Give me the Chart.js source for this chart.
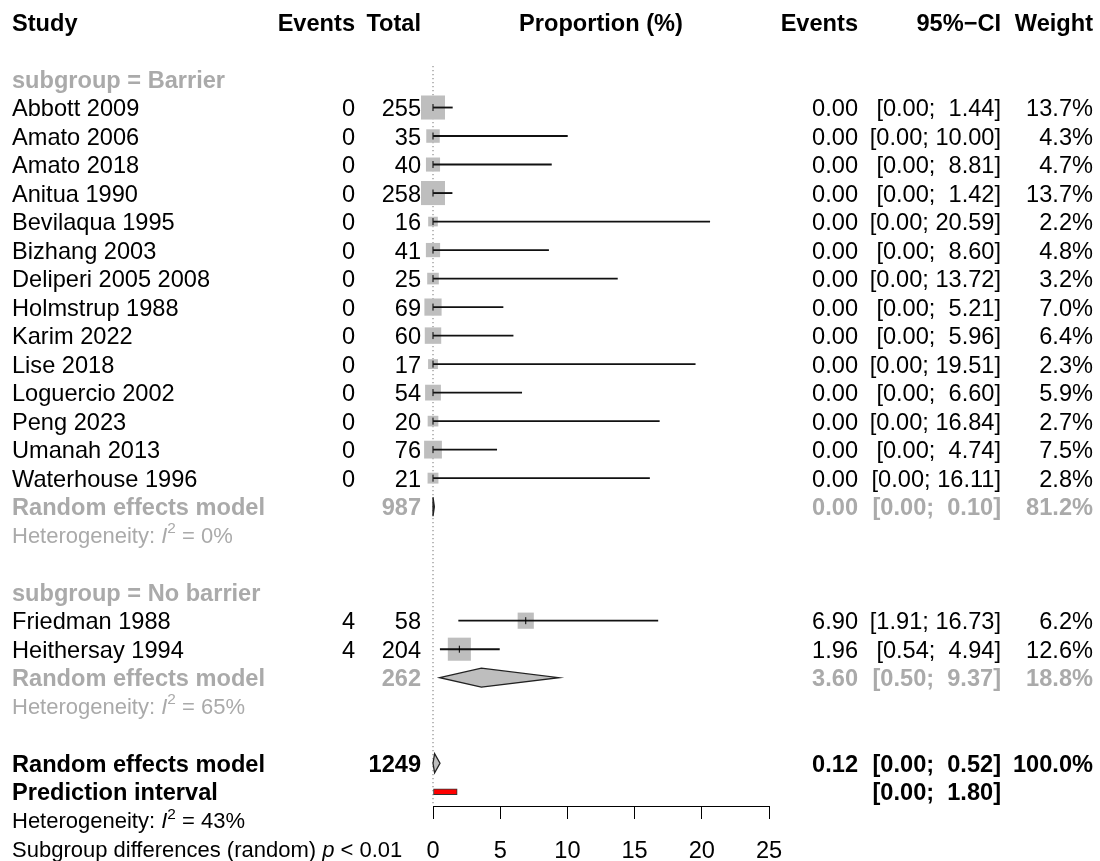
<!DOCTYPE html>
<html>
<head>
<meta charset="utf-8">
<title>Forest plot - proportion (%)</title>
<script src="https://cdn.jsdelivr.net/npm/chart.js@4.4.1/dist/chart.umd.min.js"></script>
<style>
  body { margin: 0; background: #fff; }
  canvas { display: block; }
</style>
</head>
<body>
<canvas id="forestChart" width="1100" height="861"></canvas>
<script>
// study level data
const studies = ['Abbott 2009', 'Amato 2006', 'Amato 2018', 'Anitua 1990', 'Bevilaqua 1995', 'Bizhang 2003',
    'Deliperi 2005 2008', 'Holmstrup 1988', 'Karim 2022', 'Lise 2018', 'Loguercio 2002', 'Peng 2023',
    'Umanah 2013', 'Waterhouse 1996', 'Friedman 1988', 'Heithersay 1994'];
const subgroups = ['Barrier', 'Barrier', 'Barrier', 'Barrier', 'Barrier', 'Barrier', 'Barrier', 'Barrier',
    'Barrier', 'Barrier', 'Barrier', 'Barrier', 'Barrier', 'Barrier', 'No barrier', 'No barrier'];
const events = [0, 0, 0, 0, 0, 0, 0, 0, 0, 0, 0, 0, 0, 0, 4, 4];
const totals = [255, 35, 40, 258, 16, 41, 25, 69, 60, 17, 54, 20, 76, 21, 58, 204];
const proportions = [0, 0, 0, 0, 0, 0, 0, 0, 0, 0, 0, 0, 0, 0, 6.90, 1.96];
const lowerCI = [0, 0, 0, 0, 0, 0, 0, 0, 0, 0, 0, 0, 0, 0, 1.91, 0.54];
const upperCI = [1.44, 10.00, 8.81, 1.42, 20.59, 8.60, 13.72, 5.21, 5.96, 19.51, 6.60, 16.84, 4.74, 16.11, 16.73, 4.94];
const weights = [13.7, 4.3, 4.7, 13.7, 2.2, 4.8, 3.2, 7.0, 6.4, 2.3, 5.9, 2.7, 7.5, 2.8, 6.2, 12.6];

// pooled results: Barrier, No barrier, overall
const groupNames = ['Barrier', 'No barrier'];
const pooledTotals = [987, 262, 1249];
const pooledEst = [0.00, 3.60, 0.12];
const pooledLower = [0.00, 0.50, 0.00];
const pooledUpper = [0.10, 9.37, 0.52];
const pooledWeights = [81.2, 18.8, 100.0];
const hetI2 = [0, 65, 43];
const predInterval = [0.00, 1.80];
const subgroupP = '< 0.01';

const xTicks = [0, 5, 10, 15, 20, 25];

// row layout (row 0 = header)
const studyRow = [];
const subgroupRow = [];
const pooledRow = [];
const hetRow = [];
let r = 2;
groupNames.forEach((g, gi) => {
    subgroupRow[gi] = r++;
    studies.forEach((s, i) => {
        if (subgroups[i] === g) studyRow[i] = r++;
    });
    pooledRow[gi] = r++;
    hetRow[gi] = r++;
    r++;
});
pooledRow[2] = r++;
const predRow = r++;
hetRow[2] = r++;
const diffRow = r++;

const GRAY = '#aaaaaa';
const FONT = "'Liberation Sans', Arial, sans-serif";
const fReg = '23.6px ' + FONT;
const fBold = 'bold 23.6px ' + FONT;
const fHet = 22;
const DY = 2; // text sits a little below the row centre

const fmt = v => v.toFixed(2);
const ciText = (lo, hi) => '[' + fmt(lo) + '; ' + (hi < 10 ? ' ' : '') + fmt(hi) + ']';

function txt(ctx, s, x, y, align, font, color) {
    ctx.font = font;
    ctx.fillStyle = color;
    ctx.textAlign = align;
    ctx.fillText(s, x, y + DY);
}

// draws runs of text one after the other, for italic / superscript parts
function runs(ctx, parts, x, y, color) {
    ctx.fillStyle = color;
    ctx.textAlign = 'left';
    parts.forEach(p => {
        const size = p.sup ? fHet * 0.7 : fHet;
        ctx.font = (p.italic ? 'italic ' : '') + size + 'px ' + FONT;
        ctx.fillText(p.t, x, y + DY - (p.sup ? 8 : 0));
        x += ctx.measureText(p.t).width;
    });
}

function hetLine(ctx, i2, y, color) {
    runs(ctx, [{t: 'Heterogeneity: '}, {t: 'I', italic: true}, {t: '2', sup: true}, {t: ' = ' + i2 + '%'}], 12, y, color);
}

const forestText = {
    id: 'forestText',
    afterDraw(chart) {
        const ctx = chart.ctx;
        const x = chart.scales.x;
        const y = v => chart.scales.y.getPixelForValue(v);
        ctx.save();
        ctx.textBaseline = 'middle';

        // header
        const hy = y(0);
        txt(ctx, 'Study', 12, hy, 'left', fBold, '#000');
        txt(ctx, 'Events', 355, hy, 'right', fBold, '#000');
        txt(ctx, 'Total', 421, hy, 'right', fBold, '#000');
        txt(ctx, 'Proportion (%)', (x.left + x.right) / 2, hy, 'center', fBold, '#000');
        txt(ctx, 'Events', 858, hy, 'right', fBold, '#000');
        txt(ctx, '95%\u2212CI', 1001, hy, 'right', fBold, '#000');
        txt(ctx, 'Weight', 1093, hy, 'right', fBold, '#000');

        // studies
        studies.forEach((s, i) => {
            const ry = y(studyRow[i]);
            txt(ctx, s, 12, ry, 'left', fReg, '#000');
            txt(ctx, String(events[i]), 355, ry, 'right', fReg, '#000');
            txt(ctx, String(totals[i]), 421, ry, 'right', fReg, '#000');
            txt(ctx, fmt(proportions[i]), 858, ry, 'right', fReg, '#000');
            txt(ctx, ciText(lowerCI[i], upperCI[i]), 1001, ry, 'right', fReg, '#000');
            txt(ctx, weights[i].toFixed(1) + '%', 1093, ry, 'right', fReg, '#000');
        });

        // subgroup headers, pooled rows and heterogeneity
        [0, 1, 2].forEach(k => {
            const col = k < 2 ? GRAY : '#000';
            const py = y(pooledRow[k]);
            if (k < 2) txt(ctx, 'subgroup = ' + groupNames[k], 12, y(subgroupRow[k]), 'left', fBold, GRAY);
            txt(ctx, 'Random effects model', 12, py, 'left', fBold, col);
            txt(ctx, String(pooledTotals[k]), 421, py, 'right', fBold, col);
            txt(ctx, fmt(pooledEst[k]), 858, py, 'right', fBold, col);
            txt(ctx, ciText(pooledLower[k], pooledUpper[k]), 1001, py, 'right', fBold, col);
            txt(ctx, pooledWeights[k].toFixed(1) + '%', 1093, py, 'right', fBold, col);
            hetLine(ctx, hetI2[k], y(hetRow[k]), col);
        });

        txt(ctx, 'Prediction interval', 12, y(predRow), 'left', fBold, '#000');
        txt(ctx, ciText(predInterval[0], predInterval[1]), 1001, y(predRow), 'right', fBold, '#000');
        runs(ctx, [{t: 'Subgroup differences (random) '}, {t: 'p', italic: true}, {t: ' ' + subgroupP}], 12, y(diffRow), '#000');
        ctx.restore();
    }
};

// pooled diamonds
const forestDiamonds = {
    id: 'forestDiamonds',
    afterDatasetsDraw(chart) {
        const ctx = chart.ctx;
        const {x, y} = chart.scales;
        ctx.save();
        pooledEst.forEach((est, k) => {
            const yc = y.getPixelForValue(pooledRow[k]);
            const h = 9.5;
            ctx.beginPath();
            ctx.moveTo(x.getPixelForValue(pooledLower[k]), yc);
            ctx.lineTo(x.getPixelForValue(est), yc - h);
            ctx.lineTo(x.getPixelForValue(pooledUpper[k]), yc);
            ctx.lineTo(x.getPixelForValue(est), yc + h);
            ctx.closePath();
            ctx.fillStyle = '#bebebe';
            ctx.fill();
            ctx.lineWidth = 1.3;
            ctx.strokeStyle = '#222';
            ctx.stroke();
        });
        ctx.restore();
    }
};

const ctx = document.getElementById('forestChart').getContext('2d');
const forestChart = new Chart(ctx, {
    type: 'scatter',
    data: {
        datasets: [
            {
                // estimate tick
                data: studies.map((s, i) => ({x: proportions[i], y: studyRow[i]})),
                pointStyle: 'line',
                rotation: 90,
                pointRadius: 3.5,
                borderColor: '#000',
                borderWidth: 1,
                clip: false,
                order: 0
            },
            {
                // confidence intervals
                type: 'bar',
                indexAxis: 'y',
                grouped: false,
                data: studies.map((s, i) => ({x: [lowerCI[i], upperCI[i]], y: studyRow[i]})),
                barThickness: 1.2,
                backgroundColor: '#111',
                borderWidth: 0,
                clip: false,
                order: 1
            },
            {
                // weight squares
                data: studies.map((s, i) => ({x: proportions[i], y: studyRow[i]})),
                pointStyle: 'rect',
                pointRadius: weights.map(w => 6.5 * Math.sqrt(w) / Math.SQRT2),
                backgroundColor: '#bebebe',
                borderWidth: 0,
                clip: false,
                order: 2
            },
            {
                // prediction interval
                type: 'bar',
                indexAxis: 'y',
                grouped: false,
                data: [{x: predInterval, y: predRow}],
                barThickness: 6,
                backgroundColor: '#ff0000',
                borderColor: '#333',
                borderWidth: 1,
                borderSkipped: false,
                clip: false,
                order: 3
            },
            {
                // line of no effect
                showLine: true,
                data: [{x: 0, y: 1.55}, {x: 0, y: 27.5}],
                borderColor: '#555',
                borderWidth: 1,
                borderDash: [1, 3],
                pointRadius: 0,
                clip: false,
                order: 4
            }
        ]
    },
    options: {
        responsive: false,
        animation: false,
        events: [],
        layout: {
            padding: {left: 433, right: 331, top: 22, bottom: 0}
        },
        scales: {
            x: {
                type: 'linear',
                min: 0,
                max: 25,
                offset: false,
                afterBuildTicks: s => { s.ticks = xTicks.map(v => ({value: v})); },
                afterFit: s => { s.height = 55; },
                grid: {
                    offset: false,
                    drawOnChartArea: false,
                    drawTicks: true,
                    tickLength: 13,
                    color: '#000',
                    lineWidth: 1
                },
                border: {display: true, color: '#000', width: 1},
                ticks: {
                    color: '#000',
                    padding: 18,
                    font: {family: FONT, size: 23.6}
                }
            },
            y: {
                type: 'linear',
                display: false,
                offset: false,
                reverse: true,
                min: 0,
                max: 27.5
            }
        },
        plugins: {
            legend: {display: false},
            tooltip: {enabled: false}
        }
    },
    plugins: [forestDiamonds, forestText]
});
</script>
</body>
</html>
